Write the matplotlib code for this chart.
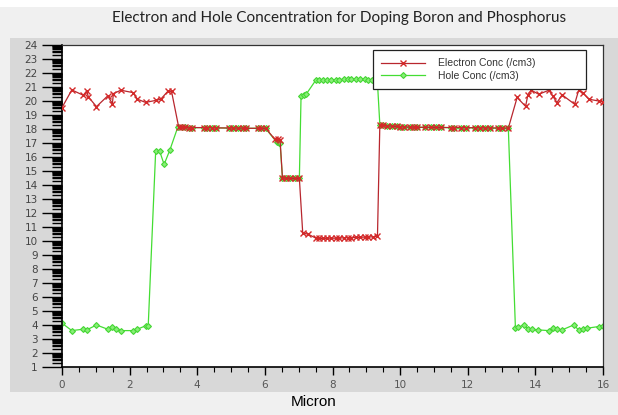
import matplotlib
matplotlib.use("Agg")
import matplotlib.pyplot as plt
import numpy as np
from matplotlib.patches import Rectangle
from matplotlib.ticker import FixedLocator, MultipleLocator

title = "Electron and Hole Concentration for Doping Boron and Phosphorus"
xlabel = "Micron"
series_names = ["Electron Conc (/cm3)", "Hole Conc (/cm3)"]

electron_x = [0.00, 0.29, 0.63, 0.73, 0.78, 1.02, 1.35, 1.49, 1.52, 1.74, 2.10, 2.23, 2.47, 2.79, 2.92, 3.14, 3.24,
              3.45, 3.55, 3.65, 3.75, 3.85, 4.20, 4.30, 4.45, 4.55, 4.95, 5.05, 5.20, 5.35, 5.45, 5.80, 5.90, 6.02,
              6.30, 6.38, 6.45, 6.52, 6.62, 6.75, 6.90, 7.02, 7.12, 7.27, 7.51, 7.60, 7.72, 7.85, 7.95, 8.10, 8.20,
              8.35, 8.45, 8.55, 8.70, 8.80, 8.95, 9.05, 9.20, 9.33,
              9.40, 9.50, 9.60, 9.75, 9.90, 10.00, 10.10, 10.30, 10.40, 10.50, 10.75, 10.90, 11.05, 11.20, 11.50,
              11.60, 11.80, 11.95, 12.20, 12.35, 12.50, 12.65, 12.90, 13.00, 13.20,
              13.46, 13.71, 13.78, 13.88, 14.10, 14.40, 14.51, 14.64, 14.79, 15.16, 15.28, 15.40, 15.58, 15.87, 16.00]
electron_v = [19.53, 20.79, 20.41, 20.72, 20.29, 19.60, 20.36, 19.82, 20.53, 20.77, 20.60, 20.13, 19.90, 20.05, 20.13, 20.72, 20.68,
              18.15, 18.12, 18.12, 18.10, 18.10, 18.10, 18.10, 18.08, 18.08, 18.07, 18.07, 18.06, 18.06, 18.05, 18.05, 18.04, 18.05,
              17.26, 17.25, 17.20, 14.50, 14.48, 14.48, 14.47, 14.47, 10.55, 10.50, 10.20, 10.18, 10.18, 10.20, 10.20, 10.20, 10.22,
              10.22, 10.24, 10.24, 10.25, 10.26, 10.28, 10.28, 10.30, 10.35,
              18.30, 18.25, 18.22, 18.20, 18.18, 18.15, 18.15, 18.13, 18.13, 18.12, 18.12, 18.12, 18.11, 18.11, 18.10,
              18.10, 18.10, 18.09, 18.09, 18.08, 18.08, 18.07, 18.07, 18.06, 18.06,
              20.25, 19.62, 20.45, 20.77, 20.48, 20.77, 20.36, 19.89, 20.44, 19.77, 20.77, 20.60, 20.13, 20.00, 19.95]

hole_x = [0.00, 0.29, 0.63, 0.73, 1.02, 1.35, 1.49, 1.60, 1.74, 2.10, 2.23, 2.47, 2.55, 2.77, 2.89, 3.02, 3.19,
          3.43, 3.55, 3.65, 3.75, 3.85, 4.20, 4.30, 4.45, 4.55, 4.95, 5.05, 5.20, 5.35, 5.45, 5.80, 5.90, 6.02,
          6.35, 6.42, 6.45, 6.52, 6.62, 6.75, 6.90, 7.02, 7.07, 7.15, 7.22, 7.51, 7.60, 7.72, 7.85, 7.95, 8.10,
          8.20, 8.35, 8.45, 8.55, 8.70, 8.80, 8.95, 9.05, 9.18, 9.33,
          9.40, 9.50, 9.60, 9.75, 9.90, 10.00, 10.10, 10.30, 10.40, 10.50, 10.75, 10.90, 11.05, 11.20, 11.50,
          11.60, 11.80, 11.95, 12.20, 12.35, 12.50, 12.65, 12.90, 13.00, 13.20,
          13.41, 13.50, 13.66, 13.79, 13.90, 14.08, 14.40, 14.51, 14.64, 14.79, 15.13, 15.28, 15.40, 15.53, 15.87, 16.00]
hole_v = [4.13, 3.60, 3.70, 3.65, 4.00, 3.70, 3.89, 3.75, 3.60, 3.60, 3.70, 3.94, 3.94, 16.40, 16.40, 15.47, 16.50,
          18.17, 18.12, 18.12, 18.10, 18.10, 18.10, 18.10, 18.08, 18.08, 18.07, 18.07, 18.06, 18.06, 18.05, 18.05, 18.04, 18.05,
          17.05, 17.00, 17.00, 14.50, 14.48, 14.48, 14.47, 14.47, 20.36, 20.40, 20.48, 21.50, 21.50, 21.50, 21.52, 21.52, 21.53,
          21.53, 21.54, 21.54, 21.55, 21.55, 21.55, 21.55, 21.52, 21.50, 21.30,
          18.30, 18.25, 18.22, 18.20, 18.18, 18.15, 18.15, 18.13, 18.13, 18.12, 18.12, 18.12, 18.11, 18.11, 18.10,
          18.10, 18.10, 18.09, 18.09, 18.08, 18.08, 18.07, 18.07, 18.06, 18.06,
          3.77, 3.85, 4.00, 3.70, 3.68, 3.65, 3.60, 3.77, 3.72, 3.65, 4.00, 3.65, 3.70, 3.77, 3.89, 3.90]

y_major = list(range(1, 25))
x_major = [0, 2, 4, 6, 8, 10, 12, 14, 16]

W, H = 618, 415
fig = plt.figure(figsize=(W / 100, H / 100), dpi=100)
fig.patch.set_facecolor("#f0f0f0")

# decorative panels
fig.add_artist(Rectangle((0, 1 - 7 / H), 1, 7 / H, transform=fig.transFigure, facecolor="white", edgecolor="none", zorder=0))
fig.add_artist(Rectangle((10 / W, 1 - 392 / H), 1 - 10 / W, (392 - 38) / H, transform=fig.transFigure,
                         facecolor="#d8d8d8", edgecolor="none", zorder=0))

ax = fig.add_axes([62 / W, 1 - 367 / H, (603 - 62) / W, (367 - 45) / H])
ax.set_facecolor("white")

ax.plot(electron_x, electron_v, color="#b8262e", lw=0.9, marker="x", ms=4.2, mew=1.0,
        mec="#d42a2a", label=series_names[0], zorder=3)
ax.plot(hole_x, hole_v, color="#44dd33", lw=0.9, marker="D", ms=3.0, mew=0.8,
        mec="#44d633", mfc="#88ee77", label=series_names[1], zorder=2)

ax.set_xlim(0, 16)
ax.set_ylim(1, 24)

ax.xaxis.set_major_locator(FixedLocator(x_major))
ax.xaxis.set_minor_locator(MultipleLocator(0.5))
ax.yaxis.set_major_locator(FixedLocator(y_major))
minor_y = [n + np.log10(k) for n in range(1, 24) for k in range(2, 10)]
ax.yaxis.set_minor_locator(FixedLocator(minor_y))

ax.tick_params(axis="y", which="major", direction="out", length=14.5, width=1.0, color="black",
               labelsize=7.5, labelcolor="#444444", pad=3)
ax.tick_params(axis="y", which="minor", direction="out", length=7, width=1.0, color="black")
ax.tick_params(axis="x", which="major", direction="out", length=6, width=1.0, color="black",
               labelsize=7.5, labelcolor="#555555", pad=3)
ax.tick_params(axis="x", which="minor", direction="out", length=3.5, width=0.8, color="black")

for side in ["left", "bottom"]:
    ax.spines[side].set_linewidth(1.2)
    ax.spines[side].set_color("black")
for side in ["top", "right"]:
    ax.spines[side].set_linewidth(0.9)
    ax.spines[side].set_color("#333333")

fig.text(339 / W, 1 - 18 / H, title, ha="center", va="center", fontsize=11, family="Lato", color="#222222")
fig.text(314 / W, 1 - 402 / H, xlabel, ha="center", va="center", fontsize=11, family="Liberation Sans", color="black")

leg = ax.legend(loc="upper left", bbox_to_anchor=(373 / W, 1 - 87.5 / H, (586 - 373) / W, (87.5 - 50.5) / H),
                bbox_transform=fig.transFigure, mode="expand", borderaxespad=0, fancybox=False,
                framealpha=1, edgecolor="#222222", handlelength=4.2, handletextpad=1.3,
                labelspacing=0.25, borderpad=0.75, prop={"family": "Liberation Sans", "size": 7.5})
leg.get_frame().set_linewidth(0.9)
for t in leg.get_texts():
    t.set_color("#333333")

fig.savefig("out.png", dpi=100, facecolor=fig.get_facecolor())
